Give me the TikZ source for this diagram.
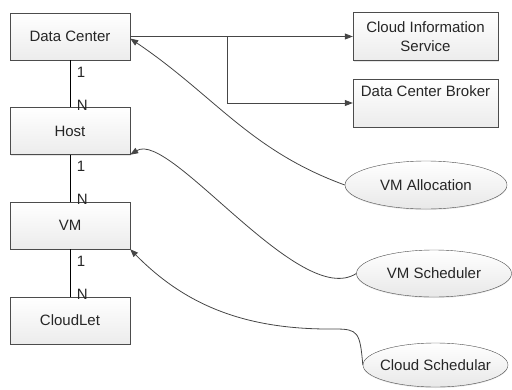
\documentclass[tikz,border=0pt]{standalone}
\usepackage{fontspec}
\setmainfont{Liberation Sans}
\usetikzlibrary{arrows.meta, shapes.geometric, shadows}

\begin{document}
\begin{tikzpicture}[x=1pt, y=-1pt,
  font=\fontsize{15}{19}\selectfont, text=black!85,
  box/.style={rectangle, draw=gray!60!black, top color=white, bottom color=gray!15, minimum width=120pt, minimum height=47pt, inner sep=2pt, align=center, drop shadow={shadow xshift=1pt, shadow yshift=-1pt, opacity=0.2}},
  sidebox/.style={box, minimum width=145pt, minimum height=48pt},
  oval/.style={ellipse, draw=gray!60!black, top color=white, bottom color=gray!18, inner xsep=-15pt, inner ysep=0pt, drop shadow={shadow xshift=0pt, shadow yshift=-1pt, opacity=0.2}},
  flow/.style={draw=gray!55!black, line width=0.8pt, -{Triangle[length=8pt, width=6pt]}},
  link/.style={draw=black, line width=0.8pt},
  card/.style={inner sep=0pt, anchor=west, xshift=6.5pt}]

  \useasboundingbox (0,0) rectangle (512,389);

  % Nodes
  \node[box] (dc) at (70,36.5) {Data Center};
  \node[box] (host) at (70,131) {Host};
  \node[box] (vm) at (70,225.5) {VM};
  \node[box] (cloudlet) at (70,320.5) {CloudLet};
  \node[sidebox] (cis) at (425.5,36.5) {Cloud Information\\Service};
  \node[sidebox] (broker) at (425.5,103) {Data Center Broker\\\strut};
  \node[oval, minimum width=162pt, minimum height=48pt] (alloc) at (426,185) {VM Allocation};
  \node[oval, minimum width=155pt, minimum height=47pt] (vmsched) at (434,273.5) {VM Scheduler};
  \node[oval, minimum width=145pt, minimum height=44pt] (cloudsched) at (435.5,365) {Cloud Schedular};
  \coordinate (split) at (227,36.5);

  % Links
  \draw[link] (dc) -- (host) node[card, pos=0.25] {1} node[card, pos=1, anchor=base west, yshift=-3pt] {N};
  \draw[link] (host) -- (vm) node[card, pos=0.25] {1} node[card, pos=1, anchor=base west, yshift=-3pt] {N};
  \draw[link] (vm) -- (cloudlet) node[card, pos=0.25] {1} node[card, pos=1, anchor=base west, yshift=-3pt] {N};

  % Arrows
  \draw[flow] (dc.east) -- (cis.west);
  \draw[flow] (split) |- (broker.west);
  \draw[flow] (alloc.west) to[out=160, in=-34] ([yshift=-2pt]dc.east);
  \draw[flow] (vmsched.west) .. controls (300,310) and (170,130) .. (host.south east);
  \draw[flow] (cloudsched.west) .. controls (360,332) and (358,329) .. (335,329) .. controls (245,330) and (185,305) .. (vm.south east);

\end{tikzpicture}
\end{document}
